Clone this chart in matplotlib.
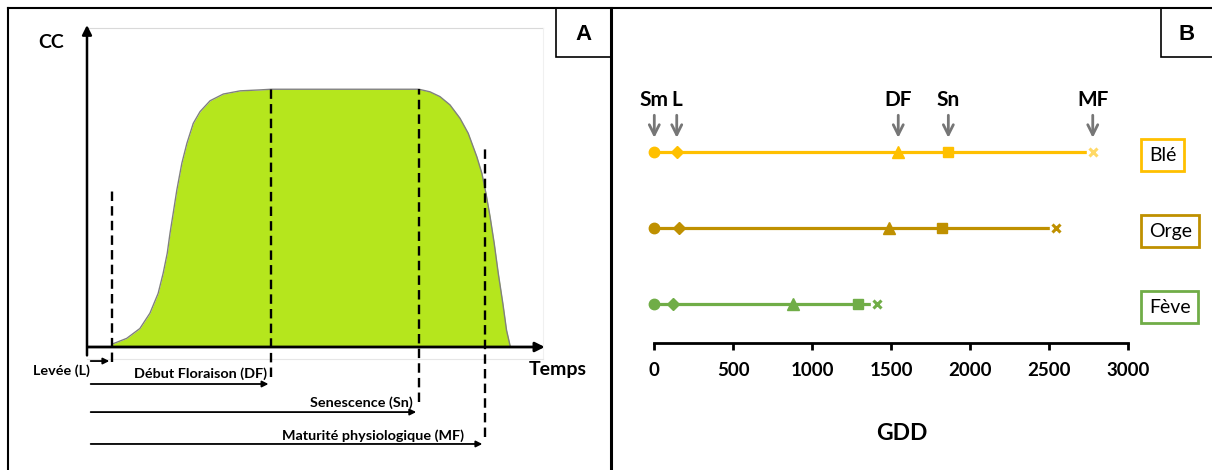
import matplotlib.pyplot as plt
from matplotlib.patches import Rectangle

plt.rcParams["font.family"] = ["Lato", "DejaVu Sans"]

# === Panel A: schematic canopy cover (CC) curve over time ===
temps = [5.5, 8.7, 11.6, 13.8, 15.6, 16.7, 17.6, 18.2, 18.9, 19.7, 20.8, 21.9,
         23.3, 24.8, 27.0, 29.9, 33.6, 38.0, 40.4,
         72.8, 75.2, 77.4, 79.6, 81.8, 83.6, 85.5, 86.6, 87.5, 88.4, 89.3,
         90.2, 91.2, 92.0, 92.8]
cc = [0.9, 2.7, 5.8, 10.6, 16.8, 23.1, 29.4, 35.6, 41.9, 49.2, 57.6, 63.8,
      70.1, 73.8, 77.2, 79.3, 80.3, 80.6, 80.8,
      80.8, 80.0, 78.5, 75.9, 71.7, 67.0, 59.6, 54.4, 48.1, 40.8, 32.5,
      23.0, 13.6, 5.3, 0.3]

# phase times, top of the dashed marker lines
phases = ["Levée (L)", "Début Floraison (DF)", "Senescence (Sn)", "Maturité physiologique (MF)"]
phase_t = [5.5, 40.4, 72.8, 87.3]
phase_top = [48.9, 80.9, 80.9, 62.4]

# === Panel B: GDD per crop and stage ===
crops = ["Blé", "Orge", "Fève"]
stages = ["Sm", "L", "DF", "Sn", "MF"]
ble = [0, 142, 1544, 1861, 2775]
orge = [0, 156, 1487, 1823, 2540]
feve = [0, 120, 880, 1287, 1407]
crop_colors = ["#FFC000", "#BF9000", "#70AD47"]
xticks = [0, 500, 1000, 1500, 2000, 2500, 3000]

W, H = 1212, 470
fig = plt.figure(figsize=(W / 100, H / 100), dpi=100)


def box(x0, y0, x1, y1):
    # figure fraction rect from pixel coords (top-left origin)
    return [x0 / W, 1 - y1 / H, (x1 - x0) / W, (y1 - y0) / H]


# --- frame / panel borders ---
bg = fig.add_axes([0, 0, 1, 1])
bg.set_xlim(0, W)
bg.set_ylim(H, 0)
bg.axis("off")
bg.plot([8, W], [8, 8], color="black", lw=1.5)
bg.plot([8, 8], [8, H], color="black", lw=1.5)
bg.plot([611, 611], [8, H], color="black", lw=2.2)
bg.add_patch(Rectangle((556, 8), 55, 49, fill=False, ec="black", lw=1.2))
bg.add_patch(Rectangle((1161, 8), 55, 49, fill=False, ec="black", lw=1.2))
bg.text(583, 34, "A", ha="center", va="center", fontsize=16, fontweight="bold",
        family="Liberation Sans")
bg.text(1187, 34, "B", ha="center", va="center", fontsize=16, fontweight="bold",
        family="Liberation Sans")

# --- Panel A ---
axA = fig.add_axes(box(87, 28, 543, 347))
axA.set_xlim(0, 100)
axA.set_ylim(0, 100)
axA.axis("off")

# faint plot frame
axA.plot([0, 100], [100, 100], color="#D9D9D9", lw=0.8, clip_on=False)
axA.plot([100, 100], [-3.8, 100], color="#F0F0F0", lw=0.8, clip_on=False)
axA.plot([0, 100], [-3.8, -3.8], color="#E6E6E6", lw=0.8, clip_on=False)

axA.fill_between(temps, cc, 0, color="#B5E61D", lw=0)
axA.plot(temps, cc, color="#808080", lw=1)

# axes with arrows
axA.annotate("", xy=(101, 0), xytext=(-0.5, 0),
             arrowprops=dict(arrowstyle="-|>", color="black", lw=2, mutation_scale=14),
             annotation_clip=False)
axA.annotate("", xy=(0, 101.8), xytext=(0, -3.5),
             arrowprops=dict(arrowstyle="-|>", color="black", lw=1.8, mutation_scale=14),
             annotation_clip=False)
axA.text(-7.9, 95.6, "CC", ha="center", va="center", fontsize=14, fontweight="bold")
axA.text(96.9, -6.9, "Temps", ha="left", va="center", fontsize=14, fontweight="bold")

arrow_y = [-4.4, -11.6, -20.4, -30.4]
dash_bottom = [-4.7, -9.4, -17.2, -28.2]
for t, top, bot in zip(phase_t, phase_top, dash_bottom):
    axA.plot([t, t], [bot, top], color="black", lw=1.7, ls=(0, (4, 2.2)), clip_on=False)
for t, y in zip(phase_t, arrow_y):
    axA.annotate("", xy=(t, y), xytext=(0.2, y),
                 arrowprops=dict(arrowstyle="-|>", color="black", lw=1.3, mutation_scale=9),
                 annotation_clip=False)

axA.text(-5.7, -7.5, phases[0], ha="center", va="center", fontsize=10.4, fontweight="bold")
axA.text(39.5, -8.4, phases[1], ha="right", va="center", fontsize=10.4, fontweight="bold")
axA.text(71.5, -17.6, phases[2], ha="right", va="center", fontsize=10.4, fontweight="bold")
axA.text(82.7, -27.9, phases[3], ha="right", va="center", fontsize=10.4, fontweight="bold")

# --- Panel B ---
axB = fig.add_axes(box(654.3, 100, 1128.3, 343))
axB.set_xlim(0, 3000)
axB.set_ylim(0.487, 3.684)
for s in ["top", "right", "left"]:
    axB.spines[s].set_visible(False)
axB.spines["bottom"].set_linewidth(2)
axB.set_yticks([])
axB.set_xticks(xticks)
axB.set_xticklabels([str(v) for v in xticks], fontsize=13.5, fontweight="bold")
axB.tick_params(axis="x", direction="out", length=5, width=2, pad=9)

rows = [ble, orge, feve]
markers = ["o", "D", "^", "s"]
msizes = [7.5, 6.5, 9, 7.5]
for i, (vals, col) in enumerate(zip(rows, crop_colors)):
    y = 3 - i
    axB.plot(vals, [y] * len(vals), color=col, lw=2.3, zorder=2)
    for v, m, ms in zip(vals[:4], markers, msizes):
        axB.plot(v, y, marker=m, ms=ms, color=col, mec=col, zorder=3, clip_on=False)
    axB.plot(vals[4], y, marker="s", ms=8, color="white", mec="white", zorder=3)
    axB.plot(vals[4], y, marker="x", ms=6, mew=2.2,
             color=col if i else "#FFD966", zorder=4)
    axB.text(3130, y - 0.04, crops[i], ha="left", va="center", fontsize=14,
             bbox=dict(boxstyle="square,pad=0.38", fc="white", ec=col, lw=2),
             clip_on=False)

# stage arrows above the Blé row
for name, v in zip(stages, ble):
    axB.annotate("", xy=(v, 3.15), xytext=(v, 3.52),
                 arrowprops=dict(arrowstyle="->", color="#767676", lw=2, mutation_scale=18),
                 annotation_clip=False)
    axB.text(v, 3.68, name, ha="center", va="center", fontsize=15, fontweight="bold",
             clip_on=False)

fig.text(902 / W, 1 - 434 / H, "GDD", ha="center", va="center", fontsize=16.5,
         fontweight="bold")

fig.savefig("out.png", dpi=100)
